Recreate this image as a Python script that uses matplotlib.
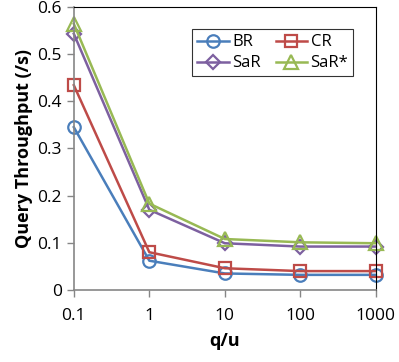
import matplotlib.pyplot as plt

plt.rcParams['font.family'] = ['Open Sans', 'DejaVu Sans']

# data
ratios = ["0.1", "1", "10", "100", "1000"]
br = [0.345, 0.062, 0.035, 0.032, 0.032]
cr = [0.434, 0.080, 0.046, 0.040, 0.040]
sar = [0.543, 0.170, 0.099, 0.092, 0.092]
sar_star = [0.564, 0.183, 0.108, 0.101, 0.099]

fig = plt.figure(figsize=(3.99, 3.62), dpi=100)
ax = fig.add_axes([0.185, 0.199, 0.757, 0.782])

x = range(len(ratios))
style = dict(linewidth=1.8, markersize=9, markerfacecolor="none", markeredgewidth=1.6, clip_on=False)
l1, = ax.plot(x, br, color="#4A7EBB", marker="o", label="BR", **style)
l2, = ax.plot(x, cr, color="#BE4B48", marker="s", label="CR", **style)
l3, = ax.plot(x, sar, color="#7D60A0", marker="D", label="SaR", **dict(style, markersize=7))
l4, = ax.plot(x, sar_star, color="#98B954", marker="^", label="SaR*", **dict(style, markersize=10))

ax.set_xlim(0, 4)
ax.set_ylim(0, 0.6)
ax.set_xticks(list(x))
ax.set_xticklabels(ratios)
ax.set_yticks([0, 0.1, 0.2, 0.3, 0.4, 0.5, 0.6])
ax.set_yticklabels(["0", "0.1", "0.2", "0.3", "0.4", "0.5", "0.6"])
ax.tick_params(axis="both", labelsize=12.5, color="#868686", length=5, width=1)
ax.tick_params(axis="x", pad=8)

for side in ["left", "bottom"]:
    ax.spines[side].set_color("#868686")
    ax.spines[side].set_linewidth(1.2)
for side in ["top", "right"]:
    ax.spines[side].set_color("black")
    ax.spines[side].set_linewidth(0.8)

ax.set_xlabel("q/u", fontsize=13, fontweight="bold", labelpad=6)
ax.set_ylabel("Query Throughput (/s)", fontsize=13, fontweight="bold", labelpad=3)

# row-wise order like the original: BR CR / SaR SaR*
leg = ax.legend([l1, l3, l2, l4], ["BR", "SaR", "CR", "SaR*"], ncol=2, loc="upper right",
                bbox_to_anchor=(0.953, 0.95), fontsize=12,
                frameon=True, fancybox=False, edgecolor="black", handlelength=1.9,
                columnspacing=0.9, handletextpad=0.2, borderpad=0.3, labelspacing=0.3)
leg.get_frame().set_linewidth(0.8)

fig.savefig("out.png", dpi=100)
